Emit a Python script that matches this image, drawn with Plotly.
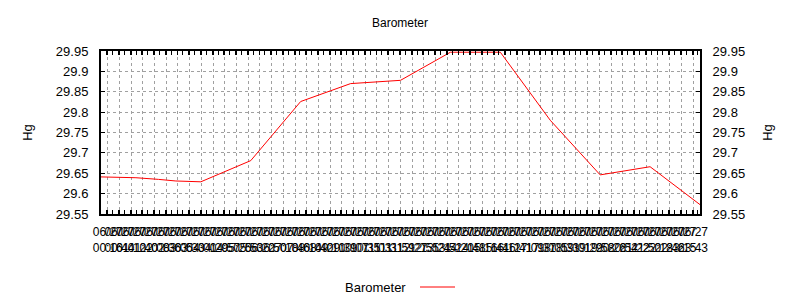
import plotly.graph_objects as go
from datetime import datetime, timedelta

# Data (hours from start, pressure in inHg)
hours = [0, 0.5, 1.4, 2.3, 3.0, 4.0, 6.0, 8.0, 10.0, 12.0, 14.0, 16.0, 18.0, 20.0, 22.0, 24.0]
pressure = [29.641, 29.640, 29.639, 29.635, 29.631, 29.629, 29.681, 29.826, 29.870, 29.878,
            29.947, 29.947, 29.780, 29.646, 29.666, 29.573]
y_ticks = [29.55, 29.6, 29.65, 29.7, 29.75, 29.8, 29.85, 29.9, 29.95]

start = datetime(2012, 6, 27, 0, 0)
n_ticks = 51
tick_first = 0.27
tick_step = (23.72 - tick_first) / (n_ticks - 1)
tick_vals = [tick_first + i * tick_step for i in range(n_ticks)]
date_text = [(start + timedelta(hours=v)).strftime("%m/%d") for v in tick_vals]
time_text = [(start + timedelta(hours=v)).strftime("%H:%M") for v in tick_vals]

FONT = "Liberation Sans"
RED = "#ff0000"
GRID = "#a0a0a0"

fig = go.Figure()
fig.add_trace(go.Scatter(x=hours, y=pressure, mode="lines", line=dict(color=RED, width=1),
                         name="Barometer", showlegend=False))
fig.add_trace(go.Scatter(x=hours, y=pressure, mode="lines", yaxis="y2", opacity=0,
                         showlegend=False, hoverinfo="skip"))
fig.add_trace(go.Scatter(x=hours, y=pressure, mode="lines", xaxis="x2", opacity=0,
                         showlegend=False, hoverinfo="skip"))

fig.update_layout(
    width=800, height=300,
    margin=dict(l=101, r=100, t=51, b=86),
    paper_bgcolor="white", plot_bgcolor="white",
    font=dict(family=FONT, size=12, color="black"),
    title=dict(text="Barometer", x=0.5, xanchor="center", y=1 - 23 / 300, yanchor="middle",
               font=dict(family=FONT, size=12)),
    xaxis=dict(range=[0, 24], tickmode="array", tickvals=tick_vals, ticktext=date_text,
               showgrid=True, gridcolor=GRID, griddash="dot", gridwidth=1,
               ticks="inside", ticklen=4, tickcolor="black", mirror="allticks",
               showline=True, linecolor="black", linewidth=2, zeroline=False,
               tickangle=0, tickfont=dict(size=12), ticklabelstandoff=6,
               minor=dict(ticks="inside", ticklen=2, tickcolor="black", tick0=0,
                          dtick=tick_step / 2, showgrid=False)),
    xaxis2=dict(range=[0, 24], tickmode="array", tickvals=tick_vals, ticktext=time_text,
                overlaying="x", side="bottom", anchor="y", showgrid=False,
                ticks="", showline=False, zeroline=False, tickangle=0,
                tickfont=dict(size=12), ticklabelstandoff=25),
    yaxis=dict(range=[29.55, 29.95], tickmode="array", tickvals=y_ticks,
               showgrid=True, gridcolor=GRID, griddash="dot", gridwidth=1,
               ticks="inside", ticklen=4, tickcolor="black",
               showline=True, linecolor="black", linewidth=2, zeroline=False,
               ticklabelstandoff=8, tickfont=dict(size=13),
               title=dict(text="Hg", standoff=20, font=dict(size=13))),
    yaxis2=dict(range=[29.55, 29.95], tickmode="array", tickvals=y_ticks,
                overlaying="y", side="right", showgrid=False,
                ticks="inside", ticklen=4, tickcolor="black",
                showline=True, linecolor="black", linewidth=2, zeroline=False,
                ticklabelstandoff=8, tickfont=dict(size=13),
                title=dict(text="Hg", standoff=19, font=dict(size=13))),
)

# Legend: text then line sample (gnuplot style)
fig.add_annotation(text="Barometer", xref="paper", yref="paper",
                   x=(408 - 101) / 599, y=-(287 - 214) / 163, xanchor="right", yanchor="middle",
                   showarrow=False, font=dict(family=FONT, size=13))
fig.add_shape(type="line", xref="paper", yref="paper",
              x0=(420 - 101) / 599, x1=(455 - 101) / 599,
              y0=-(287 - 214) / 163, y1=-(287 - 214) / 163,
              line=dict(color=RED, width=1))

fig.write_html("out.html")
